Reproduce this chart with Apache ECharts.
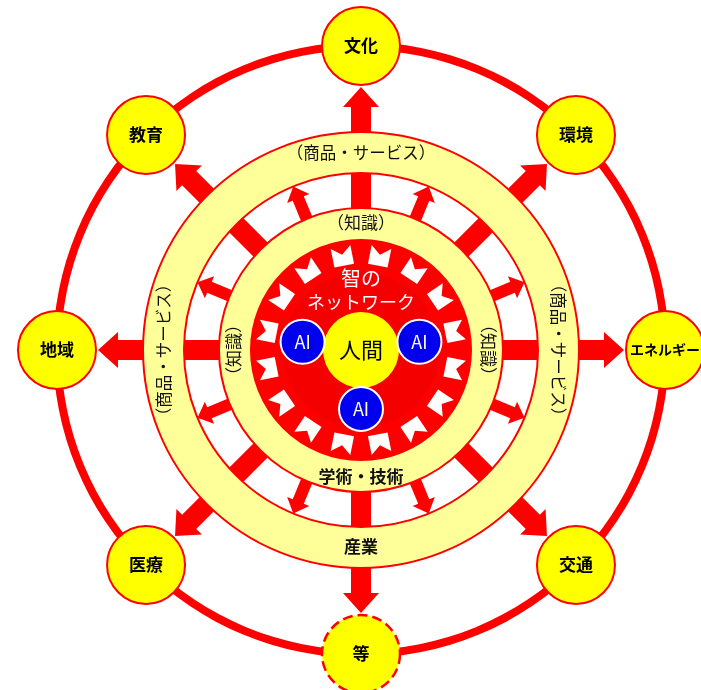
<!DOCTYPE html>
<html>
<head>
<meta charset="utf-8">
<script src="https://cdn.jsdelivr.net/npm/echarts@6/dist/echarts.min.js"></script>
<style>
html, body { margin: 0; padding: 0; background: #fff; }
#chart { width: 701px; height: 690px; }
</style>
</head>
<body>
<div id="chart"></div>
<script>
// diagram data (angles are polar angle-axis values, 0 = east, counter-clockwise)
const nodeNames = ['文化', '環境', 'エネルギー', '交通', '等', '医療', '地域', '教育']
const nodeAngles = [90, 45, 0, 315, 270, 225, 180, 135]
const mainArrowAngles = [0, 45, 90, 135, 180, 225, 270, 315]
const gapArrowAngles = [22.5, 67.5, 112.5, 157.5, 202.5, 247.5, 292.5, 337.5]
const coreNotchAngles = [11.25, 33.75, 56.25, 78.75, 101.25, 123.75, 146.25, 168.75,
  191.25, 213.75, 236.25, 258.75, 281.25, 303.75, 326.25, 348.75]
const outerBandTexts = ['（商品・サービス）', '（商品・サービス）', '産業', '（商品・サービス）']
const innerBandTexts = ['（知識）', '（知識）', '学術・技術', '（知識）']
const bandTextAngles = [90, 0, 270, 180]
const coreTexts = ['智の', 'ネットワーク']
const coreTextRadius = [72, 48]
const aiAngles = [172, 8, 270]
const centerName = '人間'

const RED = '#ff0000'
const YELLOW = '#ffff00'
const PALE = '#ffff99'
const FONT = "'Noto Sans CJK JP', 'Noto Sans CJK SC', sans-serif"

const chart = echarts.init(document.getElementById('chart'))

function px(api, r) {
  const c = api.coord([0, 0])
  const p = api.coord([r, 0])
  return Math.hypot(p[0] - c[0], p[1] - c[1])
}

// unit normal of the radial direction at an angle, in pixels
function frame(api, ang, r0, r1) {
  const p0 = api.coord([r0, ang])
  const p1 = api.coord([r1, ang])
  const dx = p1[0] - p0[0]
  const dy = p1[1] - p0[1]
  const len = Math.hypot(dx, dy)
  return { p0: p0, p1: p1, nx: -dy / len, ny: dx / len }
}

function arrowPoints(api, ang, r0, r1, rh, sw, hw) {
  const f = frame(api, ang, r0, r1)
  const ph = api.coord([rh, ang])
  const side = (p, w, s) => [p[0] + s * f.nx * w / 2, p[1] + s * f.ny * w / 2]
  return [
    side(f.p0, sw, 1), side(ph, sw, 1), side(ph, hw, 1), f.p1,
    side(ph, hw, -1), side(ph, sw, -1), side(f.p0, sw, -1)
  ]
}

// white notched gap between the core arrows
function notchPoints(api, ang, r0, r1, depth, w) {
  const f = frame(api, ang, r0, r1)
  const pm = api.coord([r1 - depth, ang])
  const side = (p, s) => [p[0] + s * f.nx * w / 2, p[1] + s * f.ny * w / 2]
  return [side(f.p0, 1), side(f.p1, 1), pm, side(f.p1, -1), side(f.p0, -1)]
}

function ringSeries(z, r0, r1, fill, stroke, lw) {
  return {
    type: 'custom',
    coordinateSystem: 'polar',
    silent: true,
    z: z,
    data: [[0, 0]],
    renderItem: function(params, api) {
      const c = api.coord([0, 0])
      return {
        type: 'ring',
        shape: { cx: c[0], cy: c[1], r: px(api, r1), r0: px(api, r0) },
        style: { fill: fill, stroke: stroke, lineWidth: lw }
      }
    }
  }
}

function arrowSeries(z, angles, r0, r1, rh, sw, hw) {
  return {
    type: 'custom',
    coordinateSystem: 'polar',
    silent: true,
    z: z,
    data: angles.map(a => [r1, a]),
    renderItem: function(params, api) {
      return {
        type: 'polygon',
        shape: { points: arrowPoints(api, api.value(1), r0, r1, rh, sw, hw) },
        style: { fill: RED }
      }
    }
  }
}

function textSeries(z, texts, radii, angles, style) {
  return {
    type: 'custom',
    coordinateSystem: 'polar',
    silent: true,
    z: z,
    data: texts.map((t, i) => ({ name: t, value: [radii[i], angles[i]] })),
    renderItem: function(params, api) {
      const ang = api.value(1)
      const p = api.coord([api.value(0), ang])
      let rot = 0
      if (ang === 0) rot = -Math.PI / 2
      if (ang === 180) rot = Math.PI / 2
      return {
        type: 'text',
        x: p[0],
        y: p[1],
        rotation: rot,
        style: Object.assign({
          text: texts[params.dataIndex],
          align: 'center',
          verticalAlign: 'middle',
          fontFamily: FONT
        }, style(params.dataIndex))
      }
    }
  }
}

const option = {
  animation: false,
  polar: { center: [361, 350], radius: 310 },
  radiusAxis: { min: 0, max: 310, show: false },
  angleAxis: { min: 0, max: 360, startAngle: 0, clockwise: false, show: false },
  series: [
    // outer red ring
    ringSeries(1, 300, 308, RED, null, 0),
    // big arrows to the outer nodes
    arrowSeries(2, mainArrowAngles, 100, 263, 243, 20, 36),
    // outer pale band
    ringSeries(3, 177, 218, PALE, RED, 2),
    // small arrows between bands
    arrowSeries(4, gapArrowAngles, 140, 177, 164, 12, 24),
    // red core disk
    ringSeries(5, 0, 111, RED, null, 0),
    ringSeries(6, 0, 78, '#f40000', null, 0),
    {
      type: 'custom',
      coordinateSystem: 'polar',
      silent: true,
      z: 7,
      data: coreNotchAngles.map(a => [105, a]),
      renderItem: function(params, api) {
        return {
          type: 'polygon',
          shape: { points: notchPoints(api, api.value(1), 86, 105, 8, 20) },
          style: { fill: '#ffffff' }
        }
      }
    },
    // inner pale band
    ringSeries(8, 110, 142, PALE, RED, 2),
    textSeries(9, outerBandTexts, [197, 197, 197, 197], bandTextAngles, i => (
      i === 2 ? { fill: '#111', fontSize: 17, fontWeight: 'bold' } : { fill: '#111', fontSize: 16.5 }
    )),
    textSeries(9, innerBandTexts, [127, 127, 127, 127], bandTextAngles, i => (
      i === 2 ? { fill: '#111', fontSize: 17, fontWeight: 'bold' } : { fill: '#111', fontSize: 17 }
    )),
    textSeries(9, coreTexts, coreTextRadius, [90, 90], i => (
      { fill: '#ffffff', fontSize: i === 0 ? 20 : 18 }
    )),
    {
      type: 'scatter',
      coordinateSystem: 'polar',
      silent: true,
      z: 10,
      symbol: 'circle',
      symbolSize: 78,
      itemStyle: { color: YELLOW, borderColor: RED, borderWidth: 2, opacity: 1 },
      label: {
        show: true,
        position: 'inside',
        formatter: '{b}',
        color: '#000',
        fontSize: 17,
        fontWeight: 'bold',
        fontFamily: FONT
      },
      data: nodeNames.map((n, i) => ({
        name: n,
        value: [304, nodeAngles[i]],
        itemStyle: n === '等' ? { borderType: 'dashed', borderWidth: 2.5 } : undefined,
        label: n === 'エネルギー' ? { fontSize: 14 } : undefined
      }))
    },
    {
      type: 'scatter',
      coordinateSystem: 'polar',
      silent: true,
      z: 11,
      symbol: 'circle',
      symbolSize: 76,
      itemStyle: { color: YELLOW, opacity: 1 },
      label: { show: true, position: 'inside', formatter: '{b}', color: '#000', fontSize: 22, fontFamily: FONT },
      data: [{ name: centerName, value: [0, 0] }]
    },
    {
      type: 'scatter',
      coordinateSystem: 'polar',
      silent: true,
      z: 12,
      symbol: 'circle',
      symbolSize: 44,
      itemStyle: { color: '#0000ee', borderColor: '#ffffff', borderWidth: 2, opacity: 1 },
      label: { show: true, position: 'inside', formatter: 'AI', color: '#fff', fontSize: 18, fontFamily: FONT },
      data: aiAngles.map(a => ({ name: 'AI', value: [59, a] }))
    }
  ]
}

chart.setOption(option)
</script>
</body>
</html>
